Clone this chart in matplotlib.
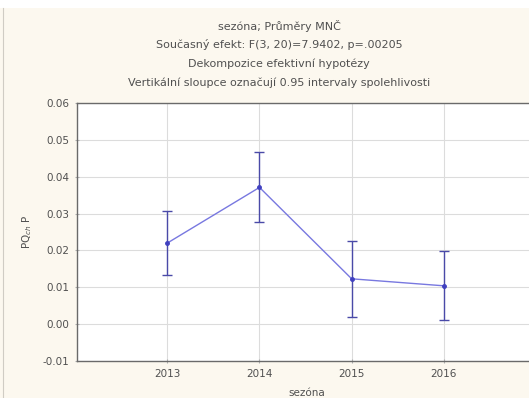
import matplotlib
matplotlib.use("Agg")
import matplotlib.pyplot as plt
from matplotlib.patches import Rectangle
from matplotlib.lines import Line2D

years = [2013, 2014, 2015, 2016]
means = [0.0220, 0.0371, 0.0123, 0.0104]
ci_half = [0.0087, 0.0095, 0.0103, 0.0094]
yticks = [-0.01, 0.00, 0.01, 0.02, 0.03, 0.04, 0.05, 0.06]
ytick_labels = ["-0.01", "0.00", "0.01", "0.02", "0.03", "0.04", "0.05", "0.06"]
title_lines = [
    "sezóna; Průměry MNČ",
    "Současný efekt: F(3, 20)=7.9402, p=.00205",
    "Dekompozice efektivní hypotézy",
    "Vertikální sloupce označují 0.95 intervaly spolehlivosti",
]
xlabel = "sezóna"
ylabel = "PQ$_{ch}$ P"

plt.rcParams['font.family'] = ['DejaVu Sans']

W, H = 529, 398
fig = plt.figure(figsize=(W / 100, H / 100), dpi=100)
fig.patch.set_facecolor('#fcf8ef')
fig.patches.append(Rectangle((0, 1 - 8 / H), 1, 8 / H, transform=fig.transFigure,
                             facecolor='white', edgecolor='none', zorder=0))
fig.lines.append(Line2D([3 / W, 3 / W], [0, 1 - 8 / H], transform=fig.transFigure,
                        color='#d0ccc4', lw=0.8))

left, right = 77, 536
top, bottom = 103, 361
ax = fig.add_axes([left / W, 1 - bottom / H, (right - left) / W, (bottom - top) / H])
ax.set_facecolor('white')

ax.plot(years, means, color='#7878e0', lw=1.0, zorder=3)
ax.errorbar(years, means, yerr=ci_half, fmt='none', ecolor='#4a4aa8', elinewidth=1.0,
            capsize=3.5, capthick=1.0, zorder=4)
ax.plot(years, means, 'o', color='#4040c0', ms=2.5, zorder=5)

ax.set_xlim(2012.02, 2017)
ax.set_ylim(-0.01, 0.06)
ax.set_xticks(years)
ax.set_xticklabels([str(y) for y in years])
ax.set_yticks(yticks)
ax.set_yticklabels(ytick_labels)
ax.grid(True, color='#dcdcdc', lw=0.8)
ax.set_axisbelow(True)
for s in ['left', 'bottom', 'top']:
    ax.spines[s].set_color('#6a6a6a')
    ax.spines[s].set_linewidth(1.0)
ax.spines['right'].set_visible(False)
ax.tick_params(axis='both', labelsize=7.5, colors='#b0b0b0', labelcolor='#505050',
               length=3, width=0.8, direction='inout', pad=4)

ax.set_xlabel(xlabel, fontsize=7.5, color='#505050', labelpad=7)
ax.set_ylabel(ylabel, fontsize=7.5, color='#505050', labelpad=6)

ys = [26, 45, 64, 83]
for t, y in zip(title_lines, ys):
    fig.text(279 / W, 1 - y / H, t, ha='center', va='center', fontsize=8, color='#505050')

fig.savefig('out.png', dpi=100, facecolor=fig.get_facecolor())
